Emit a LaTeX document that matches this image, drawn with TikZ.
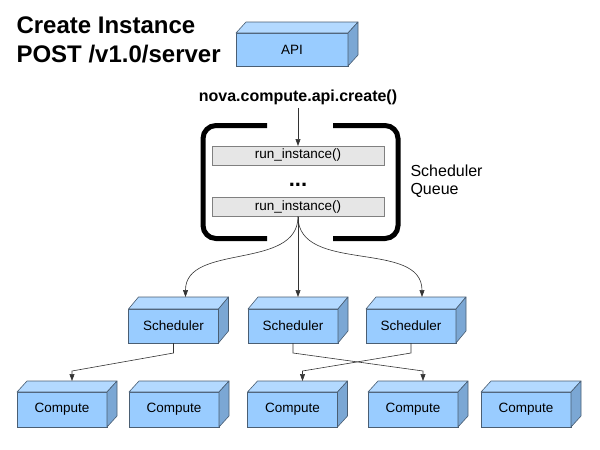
\documentclass[tikz,border=0pt]{standalone}
\usepackage{fontspec}
\setmainfont{Liberation Sans}
\usetikzlibrary{arrows.meta}
\definecolor{boxfront}{HTML}{99CCFF}
\definecolor{boxtop}{HTML}{B3D9FF}
\definecolor{boxside}{HTML}{7BA7D4}
\definecolor{boxline}{HTML}{4A5E73}
\definecolor{queuefill}{HTML}{E6E6E6}
\begin{document}
\begin{tikzpicture}[x=1pt,y=-1pt,>={Triangle[length=7pt,width=5pt]},
    box/.style={draw=boxline,fill=boxfront,line width=0.6pt,inner sep=0pt,outer sep=0pt,
      minimum width=90pt,minimum height=34pt,font=\fontsize{13.5}{16}\selectfont},
    job/.style={draw=gray,fill=queuefill,line width=0.6pt,inner sep=0pt,outer sep=0pt,
      minimum width=172pt,minimum height=19pt,font=\fontsize{13.5}{16}\selectfont},
    link/.style={->,line width=0.6pt,draw=black!80},
    bracket/.style={line width=5pt,rounded corners=13pt}]
    \useasboundingbox (0,0) rectangle (600,450);

    \node[align=left,anchor=base west,font=\fontsize{24}{29}\selectfont\bfseries] (title) at (13,62) {Create Instance\\POST /v1.0/server};
    \node[box,minimum width=112pt,minimum height=33pt] (api) at (292,49.5) {API};
    \node[anchor=base,font=\fontsize{16}{19}\selectfont\bfseries] (nova) at (298,101) {nova.compute.api.create()};

    % scheduler queue
    \node[job] (q1) at (298,155.5) {run\_instance()};
    \node[anchor=base,font=\fontsize{22}{24}\selectfont\bfseries] (dots) at (298,186) {...};
    \node[job] (q2) at (298,207) {run\_instance()};
    \node[align=left,anchor=base west,font=\fontsize{16}{17.5}\selectfont] (queue) at (407,194) {Scheduler\\Queue};
    \draw[bracket] (267,125.5) -- (203,125.5) -- (203,238.5) -- (267,238.5);
    \draw[bracket] (333,125.5) -- (398,125.5) -- (398,238.5) -- (333,238.5);

    \node[box] (s1) at (173.5,326) {Scheduler};
    \node[box] (s2) at (293,326) {Scheduler};
    \node[box] (s3) at (411,326) {Scheduler};

    \node[box,minimum height=35pt] (c1) at (62,409.5) {Compute};
    \node[box,minimum height=35pt] (c2) at (174,409.5) {Compute};
    \node[box,minimum height=35pt] (c3) at (292.5,409.5) {Compute};
    \node[box,minimum height=35pt] (c4) at (413,409.5) {Compute};
    \node[box,minimum height=35pt] (c5) at (526,409.5) {Compute};

    % top and side faces
    \foreach \n/\d in {api/11,s1/12,s2/12,s3/12,c1/11,c2/11,c3/11,c4/11,c5/11} {
      \filldraw[fill=boxtop,draw=boxline,line width=0.6pt,line join=round] (\n.north west) -- ++(10,-\d) -- ([shift={(10,-\d)}]\n.north east) -- (\n.north east) -- cycle;
      \filldraw[fill=boxside,draw=boxline,line width=0.6pt,line join=round] (\n.north east) -- ++(10,-\d) -- ([shift={(10,-\d)}]\n.south east) -- (\n.south east) -- cycle;
    }

    \draw[link] (nova) -- (q1);
    \draw[link] (q2.south) to[out=-90,in=90] ([shift={(12,-12)}]s1.north);
    \draw[link] (q2.south) -- ([shift={(5,-12)}]s2.north);
    \draw[link] (q2.south) to[out=-90,in=90] ([shift={(11,-12)}]s3.north);

    \draw[link] (s1.south) -- ++(0,10) -- ([shift={(10,-21)}]c1.north) -- ([shift={(10,-11)}]c1.north);
    \draw[link] (s2.south) -- ++(0,10) -- ([shift={(10,-21)}]c4.north) -- ([shift={(10,-11)}]c4.north);
    \draw[link] (s3.south) -- ++(0,10) -- ([shift={(10,-21)}]c3.north) -- ([shift={(10,-11)}]c3.north);
\end{tikzpicture}
\end{document}
